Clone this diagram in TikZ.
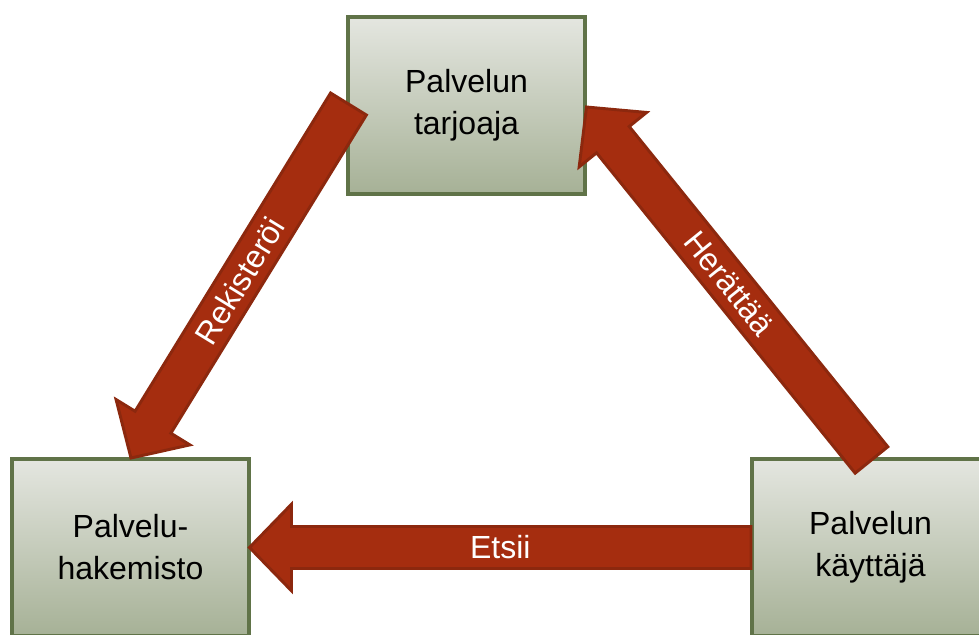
\documentclass[tikz,border=0pt]{standalone}
\usepackage{fontspec}
\setmainfont{Liberation Sans}
\usetikzlibrary{calc}

\definecolor{boxtop}{RGB}{228,230,224}
\definecolor{boxbottom}{RGB}{166,177,150}
\definecolor{boxline}{RGB}{96,115,72}
\definecolor{arrowfill}{RGB}{165,45,15}
\definecolor{arrowline}{RGB}{140,40,14}

% block arrow dimensions
\newcommand\headlen{31.5pt}
\newcommand\headhw{32.5pt}
\newcommand\shafthw{15.75pt}

\tikzset{
  rolebox/.style={draw=boxline, line width=3pt, top color=boxtop, bottom color=boxbottom,
    minimum width=177.75pt, minimum height=132.75pt, align=center,
    font=\fontsize{24}{31.5}\selectfont, text=black, inner sep=0pt},
  arrowbody/.style={fill=arrowfill, draw=arrowline, line width=2.2pt, line join=miter},
  arrowtext/.style={text=white, font=\fontsize{24}{31.5}\selectfont, inner sep=0pt}
}

% \blockarrow{tail}{tip}{label}
\newcommand\blockarrow[3]{%
  \path let \p1=($(#1)-(#2)$) in \pgfextra{%
    \pgfmathparse{atan2(\y1,\x1)}\xdef\arang{\pgfmathresult}%
    \pgfmathparse{veclen(\x1,\y1)}\xdef\arlen{\pgfmathresult}};
  \begin{scope}[shift={(#2)}, rotate=\arang]
    \draw[arrowbody] (0pt,0pt) -- (\headlen,\headhw) -- (\headlen,\shafthw)
      -- (\arlen pt,\shafthw) -- (\arlen pt,-\shafthw) -- (\headlen,-\shafthw)
      -- (\headlen,-\headhw) -- cycle;
    \node[arrowtext, rotate=\arang] at (\arlen pt/2, 0pt) {#3};
  \end{scope}}

\begin{document}
\begin{tikzpicture}[x=0.75pt, y=0.75pt]
  \useasboundingbox (0,0) rectangle (979,-635);
  \fill[white] (0,0) rectangle (979,-635);
  \clip (0,0) rectangle (979,-635);

  % the three roles
  \node[rolebox] (provider) at (466.5,-105.5) {Palvelun\\tarjoaja};
  \node[rolebox] (registry) at (130.5,-547.5) {Palvelu-\\hakemisto};
  \node[rolebox] (consumer) at (870.5,-547.5) {Palvelun\\käyttäjä};

  % arrow ends
  \coordinate (regTail) at (348.5,-104);
  \coordinate (regTip)  at (131,-458);
  \coordinate (wakeTail) at (871.5,-460);
  \coordinate (wakeTip)  at (586.5,-107);
  \coordinate (findTail) at (751,-547.5);
  \coordinate (findTip)  at (249.5,-547.5);

  \blockarrow{regTail}{regTip}{Rekisteröi}
  \blockarrow{wakeTail}{wakeTip}{Herättää}
  \blockarrow{findTail}{findTip}{Etsii}
\end{tikzpicture}
\end{document}
